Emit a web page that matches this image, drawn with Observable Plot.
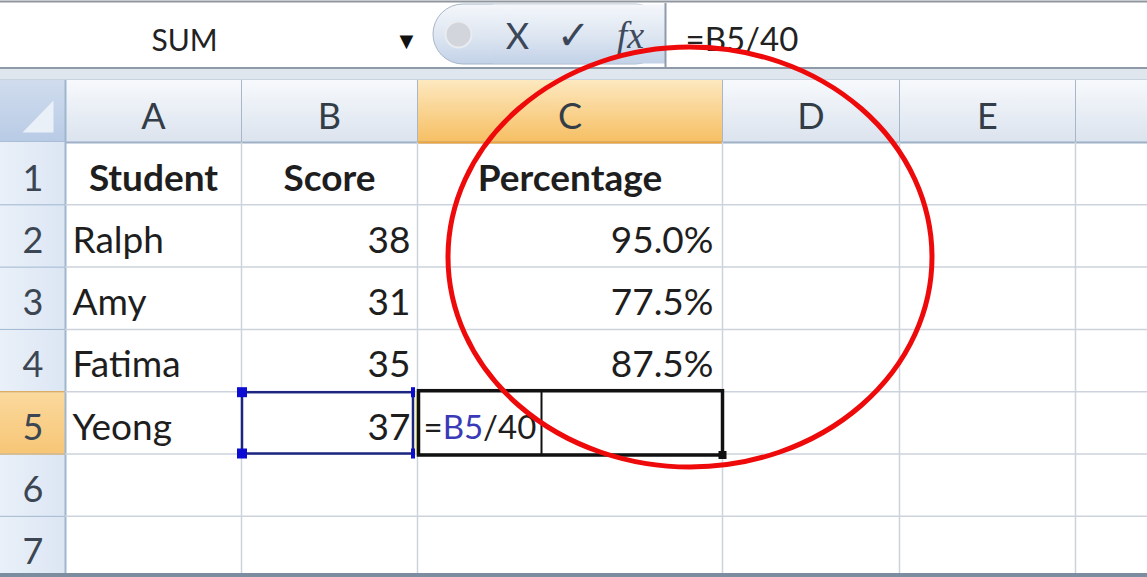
<!DOCTYPE html>
<html><head><meta charset="utf-8">
<script src="https://cdn.jsdelivr.net/npm/d3@7"></script>
<script src="https://cdn.jsdelivr.net/npm/@observablehq/plot@0.6"></script>
<style>html,body{margin:0;padding:0;background:#fff;overflow:hidden}</style>
</head><body><div id="chart"></div>
<script>
// ---------- DATA ----------
const columnLetters = ["A", "B", "C", "D", "E", "F"];
const rowNumbers = [1, 2, 3, 4, 5, 6, 7];
const fieldNames = ["Student", "Score", "Percentage"];
const students = ["Ralph", "Amy", "Fatima", "Yeong"];
const scores = [38, 31, 35, 37];
const percentages = [0.95, 0.775, 0.875];
const nameBoxText = "SUM";
const formulaText = "=B5/40";
const formulaParts = ["=", "B5", "/40"];
const activeColumn = "C";
const activeRow = 5;
const referencedColumn = "B";
const referencedRow = 5;

// ---------- LAYOUT ----------
const W = 1147, H = 577;
const L = {
  colEdges: [65, 241, 417, 722, 899, 1075, 1250],
  rowHeaderW: 65,
  fbBottom: 67, bandBottom: 80, hdrBottom: 142,
  rowH: 62.3, gridBottom: 573,
  baseline: 48, fs: 37,
  nameBoxCx: 184, dropX: 406, fbBaseline: 50,
  btnX1: 433, btnX2: 665, btnY1: 4, btnY2: 64,
  circle: [458, 34], xBtn: 517, checkBtn: 573, fxBtn: 630,
  formulaX: 685,
  ellipse: {cx: 690, cy: 257, rx: 242, ry: 210}
};
const colIdx = c => columnLetters.indexOf(c);
const colX1 = c => L.colEdges[colIdx(c)];
const colX2 = c => L.colEdges[colIdx(c) + 1];
const colMid = c => (colX1(c) + colX2(c)) / 2;
const rowTop = r => L.hdrBottom + (r - 1) * L.rowH;
const ty = (r, fs = L.fs) => rowTop(r) + L.baseline - 0.32 * fs;
const tyAbs = (baseline, fs) => baseline - 0.32 * fs;

// measure text widths for the coloured formula inside the cell
const ctx = document.createElement("canvas").getContext("2d");
const FFS = 33;
ctx.font = `${FFS}px Lato`;
const cellFormulaX = colX1(activeColumn) + 6;
let acc = 0;
const formulaPieces = formulaParts.map((t, i) => {
  const p = {text: t, x: cellFormulaX + acc, color: i === 1 ? "#3a3ab8" : "#1e1e1e"};
  acc += ctx.measureText(t).width;
  return p;
});

// ---------- TABLES ----------
const headerCells = fieldNames.map((t, i) => ({x: colMid(columnLetters[i]), y: ty(1), text: t}));
const nameCells = students.map((t, i) => ({x: colX1("A") + 7, y: ty(i + 2), text: t}));
const scoreCells = scores.map((v, i) => ({x: colX2("B") - 7, y: ty(i + 2), text: String(v)}));
const pctCells = percentages.map((v, i) => ({x: colX2("C") - 9, y: ty(i + 2), text: d3.format(".1%")(v)}));
const colHeaders = columnLetters.map(c => ({c, x: colMid(c), x1: colX1(c), x2: colX2(c), y: tyAbs(128, 36)}));
const rowHeaders = rowNumbers.map(r => ({r, x: L.rowHeaderW / 2, y: ty(r, 36), y1: rowTop(r), y2: rowTop(r) + L.rowH}));
const rowEdges = rowNumbers.map(r => rowTop(r) + L.rowH).filter(v => v < L.gridBottom);

const sel = {x1: colX1(referencedColumn) + 1, x2: colX2(referencedColumn) - 4, y1: rowTop(referencedRow) + 1, y2: rowTop(referencedRow) + L.rowH};
const act = {x1: colX1(activeColumn) + 1.5, x2: colX2(activeColumn) + 0.5, y1: rowTop(activeRow) - 0.5, y2: rowTop(activeRow) + L.rowH + 1.5};

function ellipseMark(index, scales) {
  const sx = scales && typeof scales.x === "function" ? scales.x : v => v;
  const sy = scales && typeof scales.y === "function" ? scales.y : v => v;
  const e = L.ellipse;
  const el = document.createElementNS("http://www.w3.org/2000/svg", "ellipse");
  el.setAttribute("cx", sx(e.cx));
  el.setAttribute("cy", sy(e.cy));
  el.setAttribute("rx", Math.abs(sx(e.cx + e.rx) - sx(e.cx)));
  el.setAttribute("ry", Math.abs(sy(e.cy + e.ry) - sy(e.cy)));
  el.setAttribute("fill", "none");
  el.setAttribute("stroke", "#ee0a0a");
  el.setAttribute("stroke-width", 5);
  return el;
}

const font = "Lato";
const chart = Plot.plot({
  width: W, height: H,
  marginTop: 0, marginRight: 0, marginBottom: 0, marginLeft: 0,
  x: {domain: [0, W], range: [0, W], axis: null},
  y: {domain: [0, H], range: [0, H], axis: null},
  style: {background: "#fff", fontFamily: font},
  marks: [
    // formula bar
    Plot.rect([0], {x1: 0, x2: W, y1: 0, y2: L.fbBottom, fill: "#ffffff"}),
    Plot.ruleY([1], {stroke: "#8f969e", strokeWidth: 2}),
    Plot.rect([0], {x1: L.btnX1, x2: L.btnX2, y1: L.btnY1, y2: L.btnY2, rx: 30, fill: "url(#btnGrad)", stroke: "#a9b6c7"}),
    Plot.rect([0], {x1: L.btnX1 + 60, x2: L.btnX2, y1: L.btnY1 + 0.5, y2: L.btnY2 - 0.5, fill: "url(#btnGrad)"}),
    Plot.dot([L.circle], {x: d => d[0], y: d => d[1], r: 13, fill: "#d2d6dc", stroke: "#e9ecf0", strokeWidth: 2}),
    Plot.text(["X"], {x: L.xBtn, y: tyAbs(48, 36), text: d => d, fontSize: 36, fill: "#3b4758", fontFamily: "Lato"}),
    Plot.text(["\u2713"], {x: L.checkBtn, y: tyAbs(48, 40), text: d => d, fontSize: 40, fontWeight: "bold", fill: "#3b4758", fontFamily: "DejaVu Sans"}),
    Plot.text(["fx"], {x: L.fxBtn, y: tyAbs(47, 38), text: d => d, fontSize: 38, fontStyle: "italic", fill: "#3f4a5c", fontFamily: "Liberation Serif"}),
    Plot.ruleX([L.btnX2], {y1: 3, y2: L.fbBottom, stroke: "#8f9bab", strokeWidth: 2}),
    Plot.text(["\u25BC"], {x: L.dropX, y: tyAbs(46, 18), text: d => d, fontSize: 18, fill: "#111", fontFamily: "DejaVu Sans"}),
    Plot.text([nameBoxText], {x: L.nameBoxCx, y: tyAbs(L.fbBaseline, 30), text: d => d, fontSize: 30, fill: "#222", fontFamily: font}),
    Plot.text([formulaText], {x: L.formulaX, y: tyAbs(L.fbBaseline, 33), text: d => d, textAnchor: "start", fontSize: 33, fill: "#222", fontFamily: font}),
    // band under formula bar
    Plot.rect([0], {x1: 0, x2: W, y1: L.fbBottom, y2: L.bandBottom, fill: "#dfe6ee"}),
    Plot.ruleY([L.fbBottom + 0.5], {stroke: "#8e9aa8", strokeWidth: 2}),
    Plot.ruleY([L.bandBottom - 0.5], {stroke: "#b3c0d0"}),
    // column header row
    Plot.rect([0], {x1: L.rowHeaderW, x2: W, y1: L.bandBottom, y2: L.hdrBottom, fill: "url(#hdrGrad)"}),
    Plot.rect(colHeaders.filter(d => d.c === activeColumn), {x1: "x1", x2: "x2", y1: L.bandBottom, y2: L.hdrBottom, fill: "url(#selHdrGrad)"}),
    Plot.rect([0], {x1: 0, x2: L.rowHeaderW, y1: L.bandBottom, y2: L.hdrBottom, fill: "url(#cornerGrad)"}),
    Plot.line([[53, 100], [53, 132], [22, 132]], {x: d => d[0], y: d => d[1], fill: "#eaf0f7", stroke: "none", curve: "linear-closed"}),
    Plot.ruleX(L.colEdges, {y1: L.bandBottom, y2: L.hdrBottom, stroke: "#a7b6c9"}),
    Plot.ruleY([L.hdrBottom], {x1: 0, x2: W, stroke: "#9eb0c5", strokeWidth: 2}),
    Plot.ruleY([L.hdrBottom], {x1: colX1(activeColumn), x2: colX2(activeColumn), stroke: "#eea43c", strokeWidth: 2}),
    Plot.text(colHeaders.filter(d => d.x < W - 20), {x: "x", y: "y", text: "c", fontSize: 36, fill: "#333d48", fontFamily: font}),
    // row headers
    Plot.rect(rowHeaders, {x1: 0, x2: L.rowHeaderW, y1: "y1", y2: "y2", fill: d => d.r === activeRow ? "url(#selRowGrad)" : "url(#rowHdrGrad)"}),
    Plot.ruleY(rowEdges, {x1: 0, x2: L.rowHeaderW, stroke: "#9eb6ce"}),
    Plot.ruleY([rowTop(activeRow), rowTop(activeRow) + L.rowH], {x1: 0, x2: L.rowHeaderW, stroke: "#e9a94a"}),
    Plot.ruleX([L.rowHeaderW], {y1: L.bandBottom, y2: L.gridBottom, stroke: "#9eb6ce", strokeWidth: 2}),
    Plot.text(rowHeaders, {x: "x", y: "y", text: "r", fontSize: 36, fill: "#3c4652", fontFamily: font}),
    // body gridlines
    Plot.ruleX(L.colEdges.slice(1), {y1: L.hdrBottom, y2: L.gridBottom, stroke: "#cdd3dc", strokeWidth: 1.5}),
    Plot.ruleY(rowEdges, {x1: L.rowHeaderW, x2: W, stroke: "#cdd3dc", strokeWidth: 1.5}),
    Plot.rect([0], {x1: 0, x2: W, y1: L.gridBottom, y2: H, fill: "#7d8da0"}),
    // cell contents
    Plot.text(headerCells, {x: "x", y: "y", text: "text", fontSize: L.fs, fontWeight: "bold", fill: "#1e1e1e", fontFamily: font}),
    Plot.text(nameCells, {x: "x", y: "y", text: "text", textAnchor: "start", fontSize: L.fs, fill: "#1e1e1e", fontFamily: font}),
    Plot.text(scoreCells, {x: "x", y: "y", text: "text", textAnchor: "end", fontSize: L.fs, fill: "#1e1e1e", fontFamily: font}),
    Plot.text(pctCells, {x: "x", y: "y", text: "text", textAnchor: "end", fontSize: L.fs, fill: "#1e1e1e", fontFamily: font}),
    // referenced cell B5 (coloured range border)
    Plot.rect([sel], {x1: "x1", x2: "x2", y1: "y1", y2: "y2", fill: "none", stroke: "#1c2680", strokeWidth: 2.5}),
    Plot.ruleX([sel.x2 + 3], {y1: sel.y1, y2: sel.y2, stroke: "#ecec78", strokeWidth: 2}),
    Plot.rect([[sel.x1, sel.y1], [sel.x1, sel.y2]], {x1: d => d[0] - 5, x2: d => d[0] + 5, y1: d => d[1] - 5, y2: d => d[1] + 5, fill: "#0c0cd2"}),
    Plot.rect([[sel.x2, sel.y1], [sel.x2, sel.y2]], {x1: d => d[0] - 2, x2: d => d[0] + 2, y1: d => d[1] - 5, y2: d => d[1] + 5, fill: "#0c0cd2"}),
    // active cell C5 being edited
    Plot.rect([act], {x1: "x1", x2: "x2", y1: "y1", y2: "y2", fill: "none", stroke: "#111", strokeWidth: 3.5}),
    Plot.ruleX([541], {y1: act.y1, y2: act.y2, stroke: "#111", strokeWidth: 2}),
    Plot.rect([act], {x1: d => d.x2 - 4, x2: d => d.x2 + 4, y1: d => d.y2 - 4, y2: d => d.y2 + 4, fill: "#111"}),
    Plot.text(formulaPieces, {x: "x", y: ty(activeRow, FFS) - 1, text: "text", fill: "color", textAnchor: "start", fontSize: FFS, fontFamily: font}),
    // red annotation ellipse
    ellipseMark
  ]
});

d3.select(chart).insert("defs", ":first-child").html(`
  <linearGradient id="btnGrad" x1="0" y1="0" x2="0" y2="1"><stop offset="0" stop-color="#f4f7fb"/><stop offset="0.5" stop-color="#dfe7f2"/><stop offset="1" stop-color="#c3d2e8"/></linearGradient>
  <linearGradient id="hdrGrad" x1="0" y1="0" x2="0" y2="1"><stop offset="0" stop-color="#f7f9fc"/><stop offset="1" stop-color="#dbe3ee"/></linearGradient>
  <linearGradient id="selHdrGrad" x1="0" y1="0" x2="0" y2="1"><stop offset="0" stop-color="#fde8bf"/><stop offset="1" stop-color="#f6bf63"/></linearGradient>
  <linearGradient id="cornerGrad" x1="0" y1="0" x2="0" y2="1"><stop offset="0" stop-color="#d0dcee"/><stop offset="1" stop-color="#b8cbe5"/></linearGradient>
  <linearGradient id="rowHdrGrad" x1="0" y1="0" x2="1" y2="0"><stop offset="0" stop-color="#e9f0f9"/><stop offset="1" stop-color="#dce6f3"/></linearGradient>
  <linearGradient id="selRowGrad" x1="0" y1="0" x2="0" y2="1"><stop offset="0" stop-color="#fbd99e"/><stop offset="1" stop-color="#f7c676"/></linearGradient>
`);
document.getElementById("chart").appendChild(chart);
</script>
</body></html>
